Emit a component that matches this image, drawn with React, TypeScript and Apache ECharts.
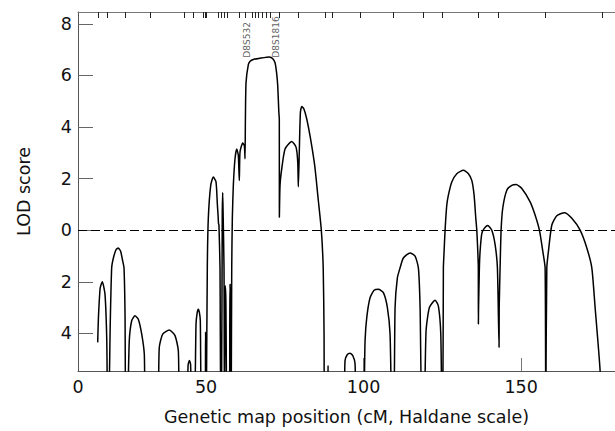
import React, { useEffect, useRef } from "react";
import * as echarts from "echarts";

// Axis extents (cM and LOD)
const X_MIN = 9.37;
const X_MAX = 179.8;
const Y_MIN = -5.46;
const Y_MAX = 8.46;

const X_TICKS = [9.37, 50, 100, 150];
const X_TICK_LABELS = ["0", "50", "100", "150"];
const Y_TICKS = [-4, -2, 0, 2, 4, 6, 8];

// Marker positions along the map (cM), drawn as ticks on the top edge
const MARKERS_CM = [
  15.94, 18.8, 24.5, 32.4, 43.0, 46.0, 49.0, 49.6, 50.2, 53.9, 54.8, 55.7, 56.7,
  60.6, 62.4, 64.7, 65.7, 66.6, 67.7, 69.0, 70.5, 73.3, 79.3, 87.8, 90.1, 99.0,
  109.3, 118.9, 124.9, 136.3, 142.9, 157.8, 175.6,
];

const LABELLED_MARKERS = ["D8S532", "D8S1816"];
const LABELLED_MARKERS_CM = [63.0, 72.2];
const LABEL_BASE_LOD = 6.69;

// LOD score curve: [cM, LOD]; -7 stands for values far below the plotted range
const LOD_CURVE: [number, number][] = [
  [15.62, -4.35], [15.85, -3.4], [16.4, -2.25], [17.08, -2.0], [17.94, -2.49], [18.5, -4.27], [18.79, -7],
  [19.1, -7], [19.6, -3.64], [20.06, -1.46], [20.6, -1.08], [21.43, -0.76], [22.16, -0.69], [22.9, -0.82], [23.56, -1.2], [23.97, -1.46], [24.3, -3.3], [24.51, -7],
  [25.0, -7], [25.65, -4.28], [26.41, -3.51], [27.46, -3.32], [28.51, -3.45], [29.59, -4.03], [30.41, -4.8], [30.95, -7],
  [34.4, -7], [35.17, -4.54], [36.25, -4.03], [38.35, -3.87], [40.16, -4.09], [41.21, -4.67], [41.75, -7],
  [43.9, -7], [44.3, -5.25], [44.7, -5.05], [45.1, -5.2], [45.5, -7],
  [46.3, -7], [46.83, -3.64], [47.2, -3.2], [47.56, -3.07], [47.9, -3.2], [48.19, -3.51], [48.6, -7],
  [49.7, -7], [49.86, -3.96], [49.94, -4.8], [50.1, -7],
  [50.3, -7], [50.41, -1.46], [50.73, 0.46], [51.49, 1.74], [52.32, 2.06], [53.17, 1.87], [53.6, 1.0], [53.88, 0.46], [53.95, 0.27], [54.1, 0.2], [54.44, -1.46], [54.67, -7],
  [54.9, -7], [55.15, 0.5], [55.3, 1.46], [55.45, 0.5], [55.71, -1.46], [55.85, -7],
  [55.95, -7], [56.02, -3.12], [56.08, -2.15], [56.3, -2.7], [56.67, -7],
  [57.4, -7], [57.55, -3.4], [57.62, -2.1], [57.8, -3.0], [58.0, -7],
  [58.1, -7], [58.16, -1.46], [58.35, 0.46], [58.67, 1.74], [59.2, 2.77], [59.75, 3.15], [60.25, 2.9], [60.57, 1.93],
  [60.79, 3.03], [61.65, 3.38], [62.16, 3.28], [62.38, 2.77],
  [62.5, 4.31], [62.7, 5.72], [63.43, 6.42], [64.0, 6.55], [65.02, 6.62], [67.14, 6.67], [70.1, 6.72], [71.2, 6.65], [71.9, 6.49], [72.4, 6.1], [72.76, 5.6], [73.1, 4.6], [73.26, 4.3], [73.28, 0.5],
  [73.49, 1.74], [74.03, 2.38], [75.08, 3.15], [77.21, 3.44], [78.57, 3.22], [79.11, 2.64], [79.3, 1.68],
  [79.6, 3.03], [79.95, 4.56], [80.38, 4.8], [81.1, 4.69], [81.97, 4.31], [83.1, 3.6], [84.5, 2.5], [85.6, 1.2], [86.6, 0], [87.2, -1.5], [87.46, -4], [87.6, -7],
  [88.5, -7], [88.73, -5.25], [88.95, -7],
  [93.4, -7], [94.13, -5.05], [94.86, -4.82], [95.71, -4.77], [96.57, -4.86], [97.3, -5.18], [97.7, -7],
  [99.8, -7], [100.48, -4.28], [101.02, -3.38], [102.06, -2.62], [103.33, -2.33], [104.7, -2.29], [106.29, -2.42], [107.56, -3.0], [108.41, -4.03], [109.0, -7],
  [109.6, -7], [110.0, -3.0], [110.73, -1.85], [111.59, -1.46], [112.63, -1.08], [114.76, -0.88], [116.35, -1.01], [117.4, -1.46], [117.94, -3.0], [118.5, -7],
  [119.2, -7], [119.84, -3.9], [120.89, -3.0], [122.7, -2.72], [123.75, -2.94], [124.51, -4.03], [124.9, -7],
  [125.15, -7], [125.33, -1.46], [125.56, -0.82], [125.87, 0], [126.41, 0.97], [126.92, 1.36], [128.0, 1.87], [129.59, 2.19], [131.68, 2.32], [133.27, 2.19], [134.35, 1.93], [135.08, 1.36], [135.62, 0.46], [135.94, 0], [136.25, -0.82], [136.42, -1.46], [136.44, -3.64],
  [136.5, -3.0], [136.76, -1.46], [136.98, -0.82], [137.52, -0.13], [138.25, 0.06], [139.43, 0.18], [140.7, 0], [141.75, -0.56], [142.48, -1.46], [143.0, -4.54],
  [143.05, -3.0], [143.33, -1.46], [143.65, 0], [144.19, 0.87], [145.46, 1.55], [147.05, 1.74], [148.41, 1.77], [150.22, 1.62], [152.86, 1.1], [154.44, 0.59], [155.81, 0], [156.89, -0.82], [157.62, -1.46], [157.84, -7],
  [158.0, -7], [158.16, -1.46], [158.67, -0.82], [159.75, 0.2], [161.33, 0.56], [163.75, 0.68], [166.1, 0.46], [168.73, 0], [170.86, -0.69], [172.44, -1.46], [173.49, -3.0], [175.08, -5.46], [175.3, -7],
];

const FONT = "'DejaVu Sans', sans-serif";
const FONT_SIZE = 17.5;

export default function App() {
  const ref = useRef<HTMLDivElement>(null);

  useEffect(() => {
    if (!ref.current) return;
    const chart = echarts.init(ref.current, undefined, { renderer: "svg" });
    const axisGrey = "#555";
    chart.setOption({
      animation: false,
      textStyle: { fontFamily: FONT },
      grid: { left: 78, right: 0, top: 12, bottom: 57, containLabel: false },
      xAxis: [
        {
          type: "value",
          min: X_MIN,
          max: X_MAX,
          position: "bottom",
          axisLine: { show: true, onZero: false, lineStyle: { color: axisGrey, width: 1 } },
          axisTick: { show: true, inside: true, length: 13, customValues: [50, 100, 150], lineStyle: { color: "#777" } },
          axisLabel: {
            customValues: X_TICKS,
            formatter: (v: number) => {
              const i = X_TICKS.indexOf(v);
              return i >= 0 ? X_TICK_LABELS[i] : "";
            },
            fontSize: FONT_SIZE,
            color: "#111",
            margin: 7,
            fontFamily: FONT,
          },
          splitLine: { show: false },
          name: "Genetic map position (cM, Haldane scale)",
          nameLocation: "middle",
          nameGap: 37,
          nameTextStyle: { fontSize: FONT_SIZE, color: "#111", fontFamily: FONT },
        },
        {
          type: "value",
          min: X_MIN,
          max: X_MAX,
          position: "top",
          axisLine: { show: true, onZero: false, lineStyle: { color: "#777", width: 1 } },
          axisTick: { show: true, inside: true, length: 6, customValues: MARKERS_CM, lineStyle: { color: "#222", width: 1 } },
          axisLabel: { show: false },
          splitLine: { show: false },
        },
      ],
      yAxis: {
        type: "value",
        min: Y_MIN,
        max: Y_MAX,
        axisLine: { show: true, onZero: false, lineStyle: { color: axisGrey, width: 1 } },
        axisTick: { show: true, inside: true, length: 15, customValues: Y_TICKS, lineStyle: { color: "#666" } },
        axisLabel: {
          customValues: Y_TICKS,
          formatter: (v: number) => String(Math.abs(v)),
          fontSize: FONT_SIZE,
          color: "#111",
          margin: 6,
          fontFamily: FONT,
        },
        splitLine: { show: false },
        name: "LOD score",
        nameLocation: "middle",
        nameGap: 45,
        nameRotate: 90,
        nameTextStyle: { fontSize: FONT_SIZE, color: "#111", fontFamily: FONT },
      },
      series: [
        {
          type: "line",
          data: LOD_CURVE,
          showSymbol: false,
          symbol: "none",
          smooth: 0.2,
          clip: true,
          lineStyle: { color: "#000", width: 1.5 },
          markLine: {
            silent: true,
            symbol: "none",
            label: { show: false },
            lineStyle: { color: "#000", type: [9, 4], width: 1 },
            data: [{ yAxis: 0 }],
          },
        },
        {
          type: "scatter",
          symbolSize: 0,
          data: LABELLED_MARKERS_CM.map((c, i) => [c, LABEL_BASE_LOD, LABELLED_MARKERS[i]]),
          label: {
            show: true,
            formatter: (p: any) => p.data[2],
            position: [0, 0],
            rotate: 90,
            align: "left",
            verticalAlign: "middle",
            fontSize: 9,
            color: "#333",
            fontFamily: "'DejaVu Sans', sans-serif",
          },
        },
      ],
    });
    return () => chart.dispose();
  }, []);

  return (
    <div
      ref={ref}
      style={{ position: "fixed", left: 0, top: 0, width: 615, height: 431, background: "#fff" }}
    />
  );
}
